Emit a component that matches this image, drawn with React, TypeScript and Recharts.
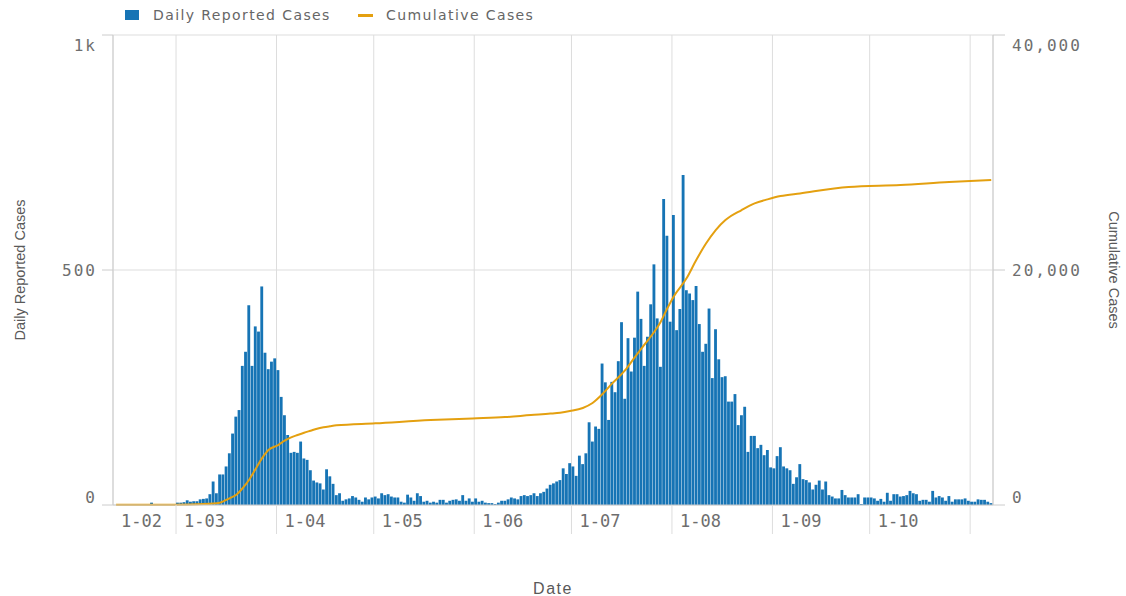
import React from 'react';
import { ComposedChart, Bar, Line, XAxis, YAxis, CartesianGrid, Label } from 'recharts';

// Daily reported cases, one value per day, 11 Feb – 7 Nov
const febDaily = [0, 0, 0, 0, 0, 0, 0, 0, 0, 0, 0, 5, 0, 0, 0, 0, 0, 0, 0];
const marDaily = [5, 5, 6, 10, 7, 8, 8, 12, 13, 14, 23, 50, 25, 65, 65, 82, 110, 152, 188, 202, 296, 326, 425, 296, 380, 369, 465, 324, 289, 305, 312];
const aprDaily = [287, 230, 191, 149, 111, 113, 111, 135, 99, 96, 74, 52, 48, 46, 33, 76, 61, 45, 21, 25, 9, 12, 14, 19, 16, 11, 7, 16, 12, 16];
const mayDaily = [18, 14, 25, 21, 23, 18, 16, 16, 7, 5, 22, 16, 9, 25, 19, 7, 9, 5, 7, 5, 11, 11, 5, 9, 11, 12, 9, 21, 9, 14, 7];
const junDaily = [14, 7, 9, 5, 4, 4, 2, 5, 9, 9, 12, 16, 14, 12, 19, 21, 19, 21, 25, 19, 25, 28, 35, 43, 46, 50, 53, 78, 66, 89];
const julDaily = [82, 62, 105, 87, 110, 176, 135, 167, 162, 301, 261, 181, 262, 240, 306, 389, 226, 355, 284, 356, 454, 396, 296, 358, 427, 512, 397, 294, 651, 573, 390];
const augDaily = [617, 372, 417, 702, 457, 450, 436, 466, 385, 326, 343, 418, 270, 374, 310, 272, 274, 220, 220, 236, 170, 191, 209, 113, 147, 147, 121, 128, 106, 117, 80];
const sepDaily = [78, 104, 123, 82, 78, 74, 45, 59, 87, 55, 53, 48, 33, 43, 52, 33, 50, 21, 18, 14, 14, 32, 21, 16, 16, 16, 23, 2, 16, 16];
const octDaily = [16, 14, 9, 13, 7, 26, 9, 23, 23, 18, 19, 21, 30, 25, 23, 9, 11, 11, 7, 30, 16, 19, 16, 9, 19, 7, 12, 12, 12, 14, 9];
const novDaily = [7, 7, 12, 11, 11, 7, 4];

// Cumulative cases read at these day indexes (0 = 11 Feb)
const cumDays = [0, 18, 27, 32, 35, 37, 39, 41, 43, 45, 47, 50, 52, 54, 56, 58, 60, 62, 64, 66, 68, 80, 97, 110, 120, 128, 134, 137, 140, 144, 147, 150, 153, 157, 160, 163, 166, 168, 170, 172, 176, 179, 182, 185, 188, 193, 197, 201, 205, 211, 226, 242, 257, 270];
const cumValues = [15, 25, 80, 200, 570, 850, 1420, 2130, 3040, 3970, 4680, 5100, 5470, 5760, 5960, 6150, 6320, 6490, 6610, 6700, 6780, 6950, 7230, 7370, 7480, 7660, 7780, 7860, 8000, 8260, 8680, 9420, 10330, 11450, 12560, 13640, 14720, 15580, 16700, 17730, 19290, 20850, 22250, 23400, 24250, 25100, 25670, 26010, 26290, 26520, 27060, 27230, 27490, 27660];

// X axis: day index of month starts (first = start of visible range)
const monthTickDays = [-0.45, 19, 50, 80, 111, 141, 172, 203, 233, 264];
const monthTickLabels = ['1-02', '1-03', '1-04', '1-05', '1-06', '1-07', '1-08', '1-09', '1-10', '1-11'];
const xDomain = [-0.45, 271.05];

const leftTicks = [0, 500, 1000];
const leftTickLabels = ['0', '500', '1k'];
const rightTicks = [0, 20000, 40000];
const rightTickLabels = ['0', '20,000', '40,000'];

const daily = [...febDaily, ...marDaily, ...aprDaily, ...mayDaily, ...junDaily, ...julDaily, ...augDaily, ...sepDaily, ...octDaily, ...novDaily];
const dailyData = daily.map((v, i) => ({ x: i + 0.5, daily: v }));
const cumData = cumDays.map((d, k) => ({ x: d + 0.5, cum: cumValues[k] }));

const BAR = '#1674b5';
const LINE = '#e4a010';
const GRID = '#dddddd';
const AXIS = '#cccccc';
const TICK_TEXT = '#6e6e6e';
const TITLE_TEXT = '#595959';
const MONO = '"DejaVu Sans Mono", monospace';

const MonthTick = (props: any) => {
  const { x, y, payload } = props;
  const k = monthTickDays.indexOf(payload.value);
  const first = k === 0;
  const last = k === monthTickDays.length - 1;
  return (
    <g>
      {!first && <line x1={x} y1={y} x2={x} y2={y + 29} stroke={GRID} />}
      {!last && (
        <text x={x + 8} y={y + 22} fontFamily={MONO} fontSize={17} fill={TICK_TEXT}>
          {monthTickLabels[k]}
        </text>
      )}
    </g>
  );
};

const LeftTick = (props: any) => {
  const { x, y, payload } = props;
  const k = leftTicks.indexOf(payload.value);
  const dy = k === 0 ? -8 : k === leftTicks.length - 1 ? 10 : 0;
  return (
    <text x={x + 2} y={y + dy} dy="0.36em" textAnchor="end" fontFamily={MONO} fontSize={16} letterSpacing={2} fill={TICK_TEXT}>
      {leftTickLabels[k]}
    </text>
  );
};

const RightTick = (props: any) => {
  const { x, y, payload } = props;
  const k = rightTicks.indexOf(payload.value);
  const dy = k === 0 ? -8 : k === rightTicks.length - 1 ? 10 : 0;
  return (
    <text x={x} y={y + dy} dy="0.36em" textAnchor="start" fontFamily={MONO} fontSize={16} letterSpacing={2} fill={TICK_TEXT}>
      {rightTickLabels[k]}
    </text>
  );
};

const YTitle = (props: any) => {
  const { viewBox, title, side } = props;
  if (!viewBox) return null;
  const { x, y, width, height } = viewBox;
  const cx = side === 'left' ? x + 20 : x + width - 12;
  const cy = y + height / 2;
  return (
    <text
      x={cx}
      y={cy}
      transform={`rotate(${side === 'left' ? -90 : 90}, ${cx}, ${cy})`}
      textAnchor="middle"
      dominantBaseline="central"
      fontFamily='"Liberation Sans", Arial, sans-serif'
      fontSize={14.5}
      fill={TITLE_TEXT}
    >
      {title}
    </text>
  );
};

const XTitle = (props: any) => {
  const { viewBox, title } = props;
  if (!viewBox) return null;
  const { x, y, width, height } = viewBox;
  return (
    <text
      x={x + width / 2}
      y={y + height - 8}
      textAnchor="middle"
      dominantBaseline="central"
      fontFamily='"Liberation Sans", Arial, sans-serif'
      fontSize={16}
      letterSpacing={1.5}
      fill={TITLE_TEXT}
    >
      {title}
    </text>
  );
};

const legendText: React.CSSProperties = {
  position: 'absolute',
  top: 6,
  fontFamily: '"DejaVu Sans", sans-serif',
  fontSize: 14,
  letterSpacing: 1.4,
  color: '#666666',
  lineHeight: '18px',
  whiteSpace: 'nowrap',
};

export default function App() {
  return (
    <div style={{ position: 'absolute', left: 0, top: 0, width: 1126, height: 596, background: '#ffffff' }}>
      <div style={{ position: 'absolute', left: 125, top: 10, width: 14, height: 10, background: BAR }} />
      <div style={{ ...legendText, left: 153 }}>Daily Reported Cases</div>
      <div style={{ position: 'absolute', left: 358, top: 14, width: 15, height: 2.5, background: LINE }} />
      <div style={{ ...legendText, left: 386 }}>Cumulative Cases</div>
      <ComposedChart
        width={1126}
        height={596}
        data={dailyData}
        margin={{ top: 35, right: 0, bottom: 0, left: 0 }}
      >
        <CartesianGrid yAxisId="left" stroke={GRID} />
        <XAxis
          dataKey="x"
          type="number"
          domain={xDomain}
          ticks={monthTickDays}
          interval={0}
          allowDataOverflow
          height={91}
          tickSize={0}
          tickMargin={0}
          tickLine={false}
          axisLine={{ stroke: AXIS }}
          tick={<MonthTick />}
        >
          <Label content={<XTitle title="Date" />} />
        </XAxis>
        <YAxis
          yAxisId="left"
          orientation="left"
          width={113}
          domain={[0, 1000]}
          ticks={leftTicks}
          interval={0}
          tickSize={11}
          tickMargin={7}
          axisLine={{ stroke: AXIS }}
          tickLine={{ stroke: AXIS }}
          tick={<LeftTick />}
        >
          <Label content={<YTitle title="Daily Reported Cases" side="left" />} />
        </YAxis>
        <YAxis
          yAxisId="right"
          orientation="right"
          width={133}
          domain={[0, 40000]}
          ticks={rightTicks}
          interval={0}
          tickSize={12}
          tickMargin={7}
          axisLine={{ stroke: AXIS }}
          tickLine={{ stroke: AXIS }}
          tick={<RightTick />}
        >
          <Label content={<YTitle title="Cumulative Cases" side="right" />} />
        </YAxis>
        <Bar yAxisId="left" dataKey="daily" fill={BAR} barSize={2.85} isAnimationActive={false} />
        <Line
          yAxisId="right"
          data={cumData}
          dataKey="cum"
          type="monotone"
          stroke={LINE}
          strokeWidth={2}
          dot={false}
          activeDot={false}
          isAnimationActive={false}
        />
      </ComposedChart>
    </div>
  );
}
